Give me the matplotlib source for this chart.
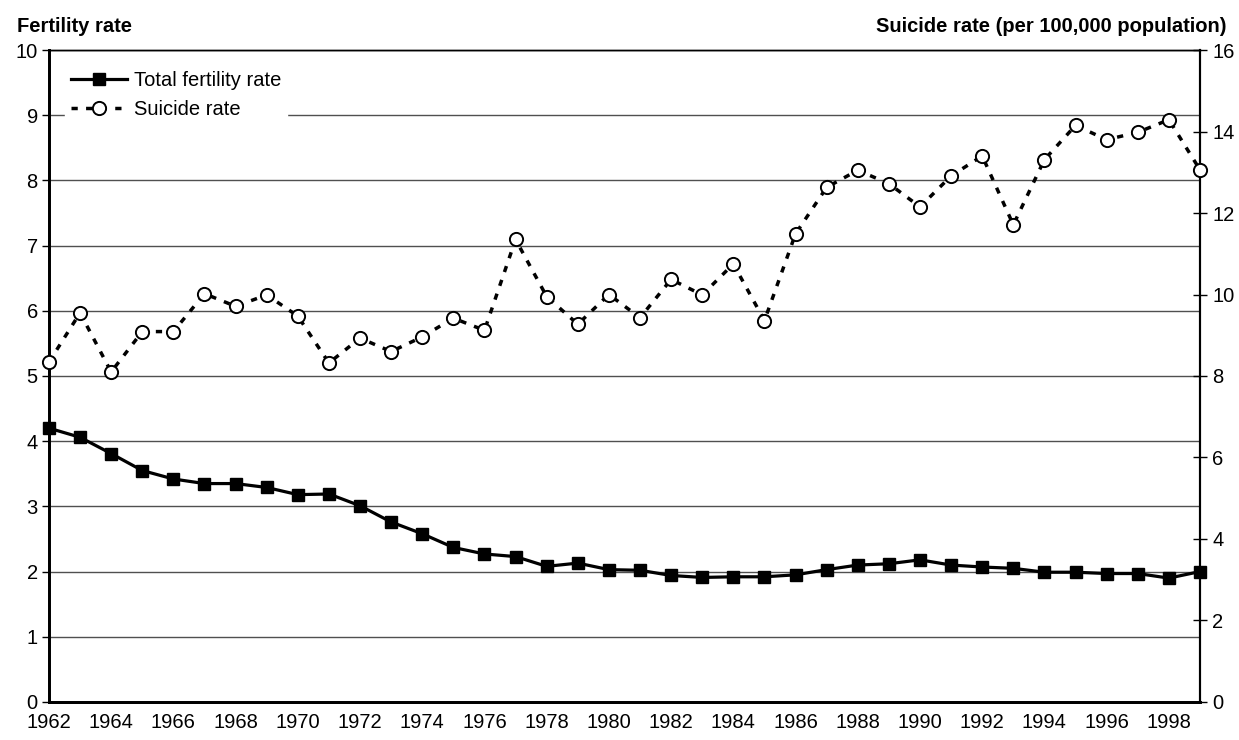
import matplotlib
matplotlib.use("Agg")
import matplotlib.pyplot as plt

plt.rcParams['font.family'] = ['Liberation Sans', 'DejaVu Sans']

years = list(range(1962, 2000))
fertility = [4.20, 4.06, 3.81, 3.55, 3.42, 3.35, 3.35, 3.29, 3.18, 3.19,
             3.01, 2.76, 2.58, 2.37, 2.27, 2.23, 2.08, 2.13, 2.03, 2.02,
             1.94, 1.91, 1.92, 1.92, 1.95, 2.03, 2.10, 2.12, 2.18, 2.10,
             2.07, 2.05, 1.99, 1.99, 1.97, 1.97, 1.90, 2.00]
suicide = [8.34, 9.55, 8.10, 9.09, 9.09, 10.02, 9.71, 9.99, 9.47, 8.32,
           8.93, 8.60, 8.96, 9.42, 9.12, 11.35, 9.95, 9.27, 10.00, 9.43,
           10.37, 9.99, 10.75, 9.36, 11.49, 12.63, 13.05, 12.72, 12.15, 12.91,
           13.40, 11.71, 13.31, 14.15, 13.80, 13.98, 14.29, 13.06]
xtick_years = list(range(1962, 2000, 2))
left_ticks = list(range(0, 11))
right_ticks = list(range(0, 17, 2))

FS = 14.5
fig = plt.figure(figsize=(12.39, 7.40), dpi=100)
ax = fig.add_axes([0.0395, 0.0514, 0.9290, 0.8810])
ax2 = ax.twinx()

ax.set_xlim(1962, 1999)
ax.set_ylim(0, 10)
ax2.set_ylim(0, 16)

for v in left_ticks[1:]:
    ax.axhline(v, color='#505050', lw=1.0, zorder=0)

l1, = ax.plot(years, fertility, color='black', lw=2.3, marker='s', markersize=9,
              markerfacecolor='black', markeredgecolor='black', clip_on=False, zorder=3,
              label='Total fertility rate')
l2, = ax2.plot(years, suicide, color='black', lw=2.5, linestyle=(0, (1.8, 2.4)),
               marker='o', markersize=9.5, markerfacecolor='white', markeredgecolor='black',
               markeredgewidth=1.4, clip_on=False, zorder=3, label='Suicide rate')

ax.set_xticks(xtick_years)
ax.set_xticklabels([str(y) for y in xtick_years], fontsize=FS)
ax.tick_params(axis='x', length=0, pad=8)
ax.set_yticks(left_ticks)
ax.set_yticklabels([str(v) for v in left_ticks], fontsize=FS)
ax.tick_params(axis='y', direction='out', length=5, width=1, pad=3)
ax2.set_yticks(right_ticks)
ax2.set_yticklabels([str(v) for v in right_ticks], fontsize=FS)
ax2.tick_params(axis='y', direction='inout', length=10, width=1, pad=4)

for a in (ax, ax2):
    a.spines['top'].set_linewidth(1.0)
    a.spines['left'].set_linewidth(2.0)
    a.spines['bottom'].set_linewidth(2.0)
    a.spines['right'].set_linewidth(1.5)

fig.text(17 / 1239, 1 - 27 / 740, 'Fertility rate', fontsize=FS, fontweight='bold',
         ha='left', va='center')
fig.text(1226 / 1239, 1 - 27 / 740, 'Suicide rate (per 100,000 population)', fontsize=FS,
         fontweight='bold', ha='right', va='center')

leg = ax2.legend(handles=[l1, l2], loc='upper left', bbox_to_anchor=(0.007, 0.990),
                 fontsize=FS, frameon=True, fancybox=False, framealpha=1,
                 facecolor='white', edgecolor='white', handlelength=2.8,
                 handletextpad=0.3, labelspacing=0.5, borderpad=0.3, borderaxespad=0.4)
leg.set_zorder(5)

fig.savefig('out.png', dpi=100)
